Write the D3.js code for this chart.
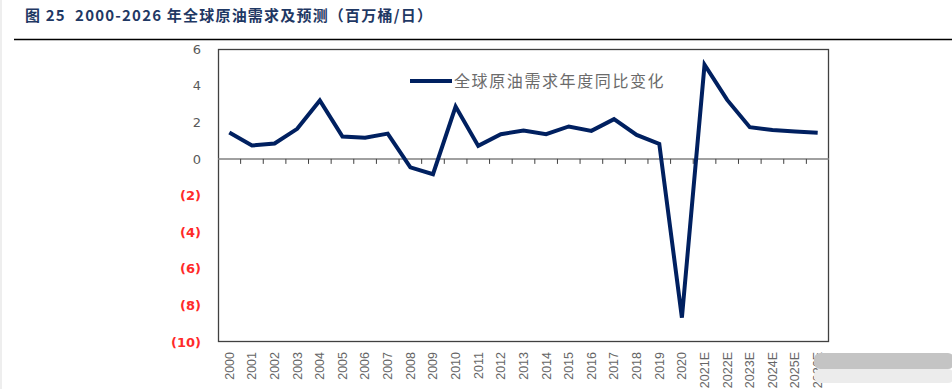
<!DOCTYPE html>
<html><head><meta charset="utf-8">
<script src="https://cdn.jsdelivr.net/npm/d3@7/dist/d3.min.js"></script>
<style>body{margin:0;background:#fff;}svg{display:block;}</style>
</head><body>
<svg id="c" width="952" height="389"></svg>
<script>
const categories = ["2000","2001","2002","2003","2004","2005","2006","2007","2008","2009","2010","2011","2012","2013","2014","2015","2016","2017","2018","2019","2020","2021E","2022E","2023E","2024E","2025E","2026E"];
const demandChange = [1.44,0.73,0.84,1.64,3.19,1.22,1.16,1.38,-0.46,-0.84,2.86,0.71,1.35,1.55,1.35,1.77,1.53,2.17,1.31,0.82,-8.67,5.14,3.22,1.73,1.58,1.49,1.42];
const yTicks = [6,4,2,0,-2,-4,-6,-8,-10];
const seriesName = "全球原油需求年度同比变化";
const titleText = "图 25  2000-2026 年全球原油需求及预测（百万桶/日）";

const svg = d3.select("#c");
const L = 218, R = 829, T = 49, B = 342;

// title
svg.append("text").attr("x", 25).attr("y", 21)
  .attr("font-family", "'Noto Sans CJK SC', 'DejaVu Sans', sans-serif")
  .attr("font-size", 15).attr("font-weight", "bold").attr("fill", "#1f3864")
  .attr("letter-spacing", 1.2)
  .attr("xml:space", "preserve")
  .text(titleText);
svg.append("line").attr("x1", 14).attr("x2", 952).attr("y1", 39.5).attr("y2", 39.5)
  .attr("stroke", "#000").attr("stroke-width", 1.5);
svg.append("line").attr("x1", 1).attr("x2", 1).attr("y1", 0).attr("y2", 389)
  .attr("stroke", "#ddd").attr("stroke-width", 1);

const x = d3.scaleBand().domain(categories).range([L, R]).padding(0);
const y = d3.scaleLinear().domain([-10, 6]).range([B, T]);

// plot border
svg.append("rect").attr("x", L + 0.5).attr("y", T + 0.5).attr("width", R - L - 1).attr("height", B - T - 1)
  .attr("fill", "none").attr("stroke", "#404040").attr("stroke-width", 1.3);

// y axis labels
const yAxis = d3.axisLeft(y).tickValues(yTicks).tickSize(0).tickPadding(0)
  .tickFormat(d => d < 0 ? "(" + Math.abs(d) + ")" : String(d));
const yg = svg.append("g").attr("transform", `translate(${L - 17},0)`).call(yAxis);
yg.select(".domain").remove();
yg.selectAll("text")
  .attr("font-family", "'DejaVu Sans', sans-serif").attr("font-size", 13)
  .attr("fill", d => d < 0 ? "#ff2a2a" : "#595959")
  .attr("font-weight", d => d < 0 ? "bold" : "normal");

// zero axis with ticks at band boundaries
const zg = svg.append("g").attr("transform", `translate(0,${y(0)})`);
zg.append("line").attr("x1", L).attr("x2", R).attr("y1", 0).attr("y2", 0)
  .attr("stroke", "#808080").attr("stroke-width", 1.5);
zg.selectAll("line.tk").data(categories.slice(1)).join("line").attr("class", "tk")
  .attr("x1", d => x(d)).attr("x2", d => x(d)).attr("y1", 0).attr("y2", 5)
  .attr("stroke", "#404040").attr("stroke-width", 1);

// x labels
const xg = svg.append("g").attr("transform", `translate(0,${B})`)
  .call(d3.axisBottom(x).tickSize(0).tickPadding(0));
xg.select(".domain").remove();
xg.selectAll("text")
  .attr("font-family", "'Liberation Sans', Arial, sans-serif").attr("font-size", 12.5)
  .attr("fill", "#666")
  .attr("transform", "rotate(-90)")
  .attr("text-anchor", "end").attr("dy", "0.35em").attr("x", -10).attr("y", 0);

// line
const line = d3.line().x((d, i) => x(categories[i]) + x.bandwidth() / 2).y(d => y(d));
svg.append("path").datum(demandChange).attr("d", line)
  .attr("fill", "none").attr("stroke", "#002060").attr("stroke-width", 4)
  .attr("stroke-linejoin", "miter");

// legend
svg.append("line").attr("x1", 410).attr("x2", 452).attr("y1", 81).attr("y2", 81)
  .attr("stroke", "#002060").attr("stroke-width", 4);
svg.append("text").attr("x", 454).attr("y", 87)
  .attr("font-family", "'Noto Sans CJK SC', sans-serif").attr("font-size", 16)
  .attr("letter-spacing", 1.6).attr("fill", "#6b6b6b").text(seriesName);

// watermark blur imitation
const wm = svg.append("g");
wm.append("rect").attr("x", 814).attr("y", 353).attr("width", 140).attr("height", 16).attr("rx", 6)
  .attr("fill", "#c4c4c4");
wm.append("rect").attr("x", 814).attr("y", 369).attr("width", 140).attr("height", 14).attr("rx", 6)
  .attr("fill", "#ececec");
</script>
</body></html>
